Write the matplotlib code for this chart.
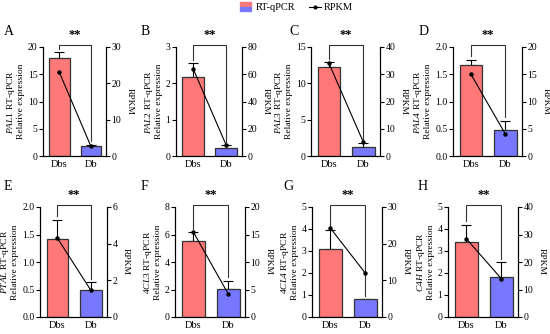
import matplotlib
matplotlib.use("Agg")
import matplotlib.pyplot as plt
from matplotlib.patches import Rectangle
from matplotlib.lines import Line2D
import numpy as np

plt.rcParams['font.family'] = ['Liberation Serif', 'DejaVu Serif']
plt.rcParams['mathtext.fontset'] = 'custom'
plt.rcParams['mathtext.rm'] = 'Liberation Serif'
plt.rcParams['mathtext.it'] = 'Liberation Serif:italic'

# ---- data ----
panels = ["A", "B", "C", "D", "E", "F", "G", "H"]
genes = ["PAL1", "PAL2", "PAL3", "PAL4", "PTAL", "4CL3", "4CL4", "C4H"]
groups = ["Dbs", "Db"]
qpcr_mean = [[18.0, 1.8], [2.17, 0.23], [12.2, 1.3], [1.67, 0.48],
             [1.42, 0.50], [5.5, 2.05], [3.1, 0.80], [3.4, 1.80]]
qpcr_err = [[1.0, 0.3], [0.38, 0.07], [0.7, 0.5], [0.10, 0.17],
            [0.35, 0.13], [0.65, 0.60], [0.85, 0.02], [0.80, 0.70]]
rpkm = [[23.0, 2.7], [64.0, 8.0], [34.0, 5.0], [15.0, 4.0],
        [4.3, 1.45], [15.5, 4.2], [24.3, 12.0], [28.5, 14.0]]
left_lim = [20, 3, 15, 2.0, 2.0, 8, 5, 5]
left_step = [5, 1, 5, 0.5, 0.5, 2, 1, 1]
right_lim = [30, 80, 40, 20, 6, 20, 30, 40]
right_step = [10, 20, 10, 5, 2, 5, 10, 10]
left_decimals = [0, 0, 0, 1, 1, 0, 0, 0]

bar_colors = ["#FF7878", "#7878FF"]

W, H = 550, 334
fig = plt.figure(figsize=(W / 100, H / 100), dpi=100)

# axes pixel boxes (left, top, right, bottom)
boxes = [(43, 47, 106, 156), (176, 47, 242, 156), (311, 47, 380, 156), (453, 47, 522, 156),
         (40, 207, 107, 317), (175, 207, 245, 317), (312, 207, 382, 317), (448, 207, 518, 317)]
# panel letter positions (left, baseline) in pixels
letter_pos = [(4, 35), (141, 35), (289, 35), (419, 35),
              (4, 190), (141, 190), (283, 190), (418, 190)]

x = np.arange(len(groups))
for i in range(8):
    l, t, r, b = boxes[i]
    ax = fig.add_axes([l / W, 1 - b / H, (r - l) / W, (b - t) / H])
    ax.bar(x, qpcr_mean[i], width=0.65, color=bar_colors, edgecolor="#333333",
           linewidth=0.9, zorder=2)
    ax.errorbar(x, qpcr_mean[i], yerr=[[0, 0], qpcr_err[i]], fmt="none",
                ecolor="black", elinewidth=0.8, capsize=3.5, capthick=0.8, zorder=1)
    ax.set_xlim(-0.52, 1.48)
    ax.set_ylim(0, left_lim[i])
    ticks = np.arange(0, left_lim[i] + left_step[i] / 2, left_step[i])
    ax.set_yticks(ticks)
    ax.set_yticklabels([f"{v:.{left_decimals[i]}f}" for v in ticks])
    ax.set_xticks(x)
    ax.set_xticklabels(groups)
    ax.tick_params(axis="x", length=0, labelsize=7.5, pad=3)
    ax.tick_params(axis="y", length=3, width=0.8, labelsize=7, pad=1)
    ax.spines["top"].set_visible(False)
    for s in ["left", "bottom", "right"]:
        ax.spines[s].set_linewidth(0.8)
    ax.set_ylabel(r"$\it{" + genes[i] + r"}$ RT-qPCR" + "\nRelative expression",
                  fontsize=6.8, labelpad=2, linespacing=1.0)

    ax2 = ax.twinx()
    ax2.plot(x, rpkm[i], color="black", linewidth=0.8, marker="o", markersize=2.2, zorder=3)
    ax2.set_ylim(0, right_lim[i])
    rt = np.arange(0, right_lim[i] + right_step[i] / 2, right_step[i])
    ax2.set_yticks(rt)
    ax2.set_yticklabels([f"{int(v)}" for v in rt])
    ax2.tick_params(axis="y", length=3, width=0.8, labelsize=7, pad=1)
    ax2.spines["top"].set_visible(False)
    ax2.spines["right"].set_linewidth(0.8)
    ax2.set_ylabel("RPKM", rotation=270, fontsize=6.8, labelpad=9)

    # significance bracket
    top = left_lim[i] * 1.02
    gap = left_lim[i] * 0.03
    ends = [qpcr_mean[i][k] + qpcr_err[i][k] + gap for k in range(2)]
    ax.plot([x[0], x[0], x[1], x[1]], [ends[0], top, top, ends[1]],
            color="#333333", linewidth=0.8, clip_on=False, zorder=4)
    ax.text((x[0] + x[1]) / 2, top + left_lim[i] * 0.035, "**", ha="center",
            va="bottom", fontsize=9, fontweight="bold")

    lx, ly = letter_pos[i]
    fig.text(lx / W, 1 - ly / H, panels[i], fontsize=10, ha="left", va="baseline")

# legend drawn manually
fig.patches.append(Rectangle((240 / W, 1 - 5.5 / H), 11 / W, 3.5 / H,
                             transform=fig.transFigure, color=bar_colors[0]))
fig.patches.append(Rectangle((240 / W, 1 - 10.5 / H), 11 / W, 3.5 / H,
                             transform=fig.transFigure, color=bar_colors[1]))
fig.text(256 / W, 1 - 7 / H, "RT-qPCR", fontsize=7.5, va="center", ha="left")
fig.lines.append(Line2D([309 / W, 321 / W], [1 - 7 / H, 1 - 7 / H], transform=fig.transFigure,
                        color="black", linewidth=0.8))
fig.lines.append(Line2D([315 / W], [1 - 7 / H], transform=fig.transFigure,
                        color="black", marker="o", markersize=2))
fig.text(324 / W, 1 - 7 / H, "RPKM", fontsize=7.5, va="center", ha="left")

fig.savefig("out.png", dpi=100)
